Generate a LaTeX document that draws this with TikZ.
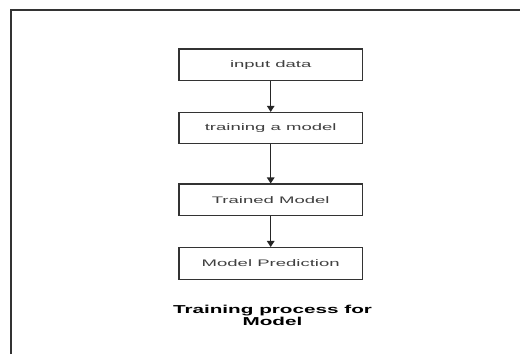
\documentclass[tikz,border=0pt]{standalone}
\usepackage{fontspec}
\usepackage{graphicx}
\setmainfont{Liberation Sans}
\usetikzlibrary{arrows.meta}
\tikzset{
  stepbox/.style={draw=black!80, line width=1.1pt, minimum width=183.5pt, minimum height=31.5pt, inner sep=0pt, font=\fontsize{9.5}{10}\selectfont, text=black!75},
  flow/.style={draw=black!85, line width=1.1pt, -{Triangle[width=7.5pt,length=6pt]}},
}
\newcommand{\wide}[1]{\scalebox{1.95}[1]{#1}}
\begin{document}
\begin{tikzpicture}[x=1pt,y=1pt]
\useasboundingbox (0,0) rectangle (520,354);
\fill[white] (0,0) rectangle (520,354);
\draw[black!80, line width=1.4pt] (11,0) -- (11,344) -- (520,344);
\node[stepbox] (a) at (270.7,289.2) {\wide{input data}};
\node[stepbox] (b) at (270.7,225.8) {\wide{training a model}};
\node[stepbox] (c) at (270.7,154.2) {\wide{Trained Model}};
\node[stepbox] (d) at (270.7,90.7) {\wide{Model Prediction}};
\draw[flow] (a) -- (b);
\draw[flow] (b) -- (c);
\draw[flow] (c) -- (d);
\node[align=center, font=\fontsize{11.5}{11.7}\bfseries\selectfont, anchor=base] (t) at (272.5,29) {\scalebox{1.8}[1]{Training process for}\\\scalebox{1.8}[1]{Model}};
\end{tikzpicture}
\end{document}
